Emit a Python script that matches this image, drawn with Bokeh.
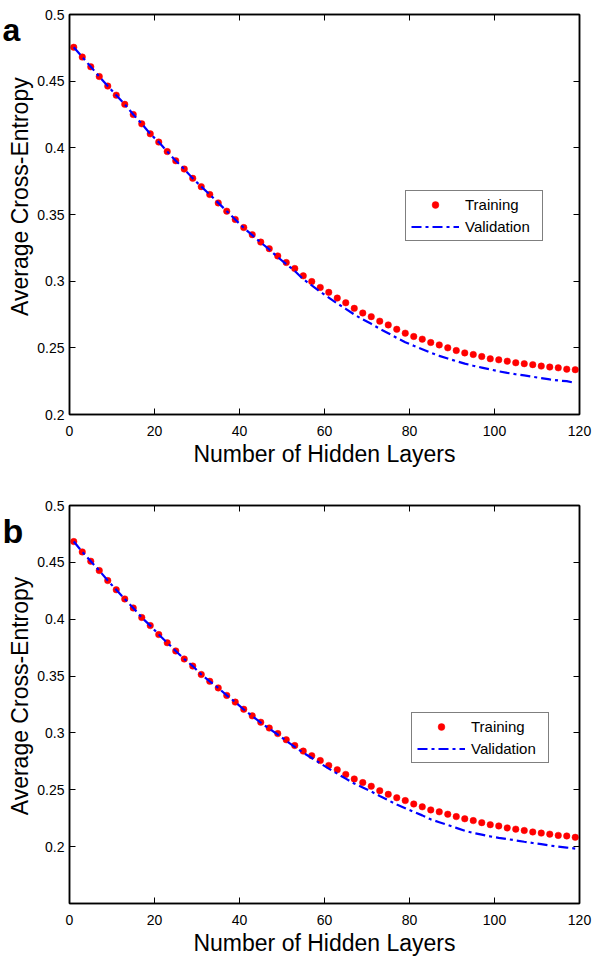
import math
from bokeh.plotting import figure
from bokeh.models import Range1d, FixedTicker, LinearAxis, Legend, LegendItem
from bokeh.core.properties import value
from bokeh.layouts import column, row
from bokeh.embed import file_html
from bokeh.resources import INLINE

# ---------------- data ----------------
x_layers = [1, 3, 5, 7, 9, 11, 13, 15, 17, 19, 21, 23, 25, 27, 29, 31, 33, 35, 37, 39,
            41, 43, 45, 47, 49, 51, 53, 55, 57, 59, 61, 63, 65, 67, 69, 71, 73, 75, 77, 79,
            81, 83, 85, 87, 89, 91, 93, 95, 97, 99, 101, 103, 105, 107, 109, 111, 113, 115, 117, 119]

train_a = [0.4754, 0.4681, 0.4608, 0.4535, 0.4463, 0.4395, 0.4326, 0.4250, 0.4180, 0.4105,
           0.4043, 0.3972, 0.3903, 0.3841, 0.3771, 0.3709, 0.3650, 0.3587, 0.3525, 0.3463,
           0.3402, 0.3349, 0.3293, 0.3244, 0.3189, 0.3140, 0.3095, 0.3040, 0.2997, 0.2953,
           0.2916, 0.2873, 0.2838, 0.2796, 0.2761, 0.2734, 0.2700, 0.2672, 0.2639, 0.2610,
           0.2585, 0.2565, 0.2540, 0.2522, 0.2500, 0.2480, 0.2462, 0.2450, 0.2435, 0.2418,
           0.2410, 0.2400, 0.2388, 0.2381, 0.2374, 0.2363, 0.2356, 0.2350, 0.2340, 0.2336]

valid_a = [0.4754, 0.4681, 0.4608, 0.4535, 0.4463, 0.4395, 0.4326, 0.4250, 0.4180, 0.4105,
           0.4043, 0.3972, 0.3903, 0.3841, 0.3771, 0.3709, 0.3650, 0.3587, 0.3525, 0.3462,
           0.3400, 0.3345, 0.3290, 0.3238, 0.3180, 0.3128, 0.3077, 0.3015, 0.2968, 0.2920,
           0.2877, 0.2833, 0.2792, 0.2750, 0.2713, 0.2680, 0.2643, 0.2610, 0.2575, 0.2542,
           0.2515, 0.2490, 0.2463, 0.2440, 0.2420, 0.2400, 0.2382, 0.2366, 0.2352, 0.2338,
           0.2324, 0.2312, 0.2302, 0.2293, 0.2283, 0.2273, 0.2263, 0.2255, 0.2250, 0.2237]

train_b = [0.4683, 0.4592, 0.4510, 0.4428, 0.4340, 0.4259, 0.4178, 0.4099, 0.4015, 0.3944,
           0.3865, 0.3793, 0.3721, 0.3650, 0.3588, 0.3514, 0.3454, 0.3396, 0.3330, 0.3271,
           0.3208, 0.3150, 0.3094, 0.3043, 0.2994, 0.2940, 0.2889, 0.2840, 0.2800, 0.2757,
           0.2714, 0.2676, 0.2635, 0.2595, 0.2563, 0.2531, 0.2492, 0.2460, 0.2430, 0.2405,
           0.2375, 0.2350, 0.2323, 0.2306, 0.2285, 0.2264, 0.2245, 0.2229, 0.2211, 0.2193,
           0.2182, 0.2165, 0.2154, 0.2142, 0.2129, 0.2119, 0.2110, 0.2099, 0.2094, 0.2082]

valid_b = [0.4683, 0.4592, 0.4510, 0.4428, 0.4340, 0.4259, 0.4178, 0.4099, 0.4015, 0.3944,
           0.3865, 0.3793, 0.3721, 0.3650, 0.3588, 0.3514, 0.3454, 0.3396, 0.3330, 0.3271,
           0.3206, 0.3148, 0.3090, 0.3038, 0.2986, 0.2930, 0.2877, 0.2825, 0.2780, 0.2733,
           0.2686, 0.2642, 0.2598, 0.2555, 0.2520, 0.2485, 0.2445, 0.2408, 0.2370, 0.2338,
           0.2305, 0.2275, 0.2240, 0.2215, 0.2190, 0.2165, 0.2140, 0.2120, 0.2105, 0.2090,
           0.2077, 0.2066, 0.2055, 0.2043, 0.2032, 0.2022, 0.2010, 0.2000, 0.1992, 0.1983]

x_ticks = [0, 20, 40, 60, 80, 100, 120]
x_tick_labels = ["0", "20", "40", "60", "80", "100", "120"]
y_ticks = [0.2, 0.25, 0.3, 0.35, 0.4, 0.45, 0.5]
y_tick_labels = ["0.2", "0.25", "0.3", "0.35", "0.4", "0.45", "0.5"]
series_names = ["Training", "Validation"]
panel_letters = ["a", "b"]
x_title = "Number of Hidden Layers"
y_title = "Average Cross-Entropy"

FONT = "Liberation Sans"
STRIP_W = 34
MAIN_W = 593 - STRIP_W


def style_axis(ax, ticks, labels=None):
    ax.ticker = FixedTicker(ticks=ticks)
    ax.axis_line_color = "black"
    ax.axis_line_width = 1.5
    ax.major_tick_line_color = "black"
    ax.major_tick_line_width = 1
    ax.major_tick_in = 6
    ax.major_tick_out = 0
    ax.minor_tick_line_color = None
    if labels is not None:
        ax.major_label_overrides = {t: l for t, l in zip(ticks, labels)}
        ax.major_label_text_font = FONT
        ax.major_label_text_font_size = "14px"
        ax.major_label_text_color = "black"
        ax.axis_label_text_font = FONT
        ax.axis_label_text_font_size = "23px"
        ax.axis_label_text_font_style = "normal"
        ax.axis_label_text_color = "black"
    else:
        ax.major_label_text_font_size = "0px"
        ax.major_label_text_color = None
        ax.major_label_standoff = 0


def make_strip(fig_h, letter, letter_size, letter_baseline_from_top, frame_center_from_top):
    """Narrow left strip holding the panel letter and the rotated y-axis title."""
    s = figure(width=STRIP_W, height=fig_h, x_range=Range1d(0, STRIP_W), y_range=Range1d(0, fig_h),
               output_backend="svg", toolbar_location=None,
               x_axis_type=None, y_axis_type=None,
               min_border_left=0, min_border_right=0, min_border_top=0, min_border_bottom=0)
    s.grid.visible = False
    s.outline_line_color = None
    s.background_fill_color = "white"
    s.border_fill_color = "white"
    s.text(x=[2], y=[fig_h - letter_baseline_from_top], text=[letter],
           text_font=value(FONT), text_font_size=value(letter_size), text_font_style="bold",
           text_color="black", text_align="left", text_baseline="alphabetic")
    s.text(x=[19.5], y=[fig_h - frame_center_from_top], text=[y_title], angle=math.pi / 2,
           text_font=value(FONT), text_font_size=value("23px"), text_color="black",
           text_align="center", text_baseline="alphabetic")
    return s


def make_panel(train, valid, y_lo, fig_h, top_border, legend_xy):
    p = figure(width=MAIN_W, height=fig_h,
               x_range=Range1d(0, 120), y_range=Range1d(y_lo, 0.5),
               output_backend="svg", toolbar_location=None,
               min_border_left=68 - STRIP_W, min_border_right=14,
               min_border_top=top_border, min_border_bottom=56,
               x_axis_label=x_title)
    p.grid.visible = False
    p.outline_line_color = "black"
    p.outline_line_width = 1.5
    p.background_fill_color = "white"
    p.border_fill_color = "white"

    style_axis(p.xaxis[0], x_ticks, x_tick_labels)
    p.xaxis[0].major_label_standoff = 11
    p.xaxis[0].axis_label_standoff = 2
    style_axis(p.yaxis[0], y_ticks, y_tick_labels)
    p.yaxis[0].major_label_standoff = 5

    top = LinearAxis()
    style_axis(top, x_ticks)
    p.add_layout(top, "above")
    right = LinearAxis()
    style_axis(right, y_ticks)
    p.add_layout(right, "right")

    r_train = p.scatter(x_layers, train, size=6.5, fill_color="#ff0000", line_color="#ff0000", line_width=0.5)
    r_valid = p.line(x_layers, valid, line_color="#0000ff", line_width=2.2, line_dash="10 4 3 4")

    legend = Legend(items=[LegendItem(label=series_names[0], renderers=[r_train]),
                           LegendItem(label=series_names[1], renderers=[r_valid])],
                    location=legend_xy)
    legend.border_line_color = "black"
    legend.border_line_width = 1
    legend.background_fill_color = "white"
    legend.background_fill_alpha = 1
    legend.label_text_font = FONT
    legend.label_text_font_size = "15px"
    legend.label_text_color = "black"
    legend.glyph_width = 48
    legend.glyph_height = 17
    legend.label_height = 17
    legend.label_width = 72
    legend.label_standoff = 6
    legend.padding = 5
    legend.spacing = 5
    legend.margin = 0
    p.add_layout(legend)
    return p


H_A, H_B = 470, 489
pa = make_panel(train_a, valid_a, 0.2, H_A, 14, (336, 173))
sa = make_strip(H_A, panel_letters[0], "32px", 18.5, 214)
pb = make_panel(train_b, valid_b, 0.15, H_B, 35, (342, 140))
sb = make_strip(H_B, panel_letters[1], "34px", 31.7, 234)

layout = column(row(sa, pa, spacing=0), row(sb, pb, spacing=0), spacing=0)

with open("out.html", "w") as f:
    f.write(file_html(layout, INLINE))
